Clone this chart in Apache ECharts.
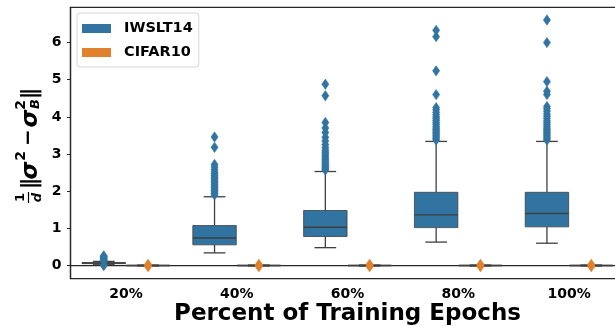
<!DOCTYPE html>
<html>
<head>
<meta charset="utf-8">
<script src="https://cdn.jsdelivr.net/npm/echarts@6/dist/echarts.min.js"></script>
<style>
  html, body { margin: 0; padding: 0; background: #fff; }
  #chart { width: 615px; height: 326px; }
</style>
</head>
<body>
<div id="chart"></div>
<script>
// Training-progress checkpoints on the x axis
const categories = ['20%', '40%', '60%', '80%', '100%'];
const seriesNames = ['IWSLT14', 'CIFAR10'];
const yTicks = [0, 1, 2, 3, 4, 5, 6];

// Five-number summaries per checkpoint: [lower whisker, Q1, median, Q3, upper whisker]
const iwsltBox = [
  [0.02, 0.05, 0.065, 0.08, 0.11],
  [0.34, 0.556, 0.74, 1.075, 1.85],
  [0.48, 0.78, 1.03, 1.48, 2.53],
  [0.63, 1.02, 1.36, 1.97, 3.34],
  [0.60, 1.04, 1.40, 1.97, 3.34]
];
const cifarBox = [
  [-0.012, -0.006, 0.0, 0.006, 0.012],
  [-0.012, -0.006, 0.0, 0.006, 0.012],
  [-0.012, -0.006, 0.0, 0.006, 0.012],
  [-0.012, -0.006, 0.0, 0.006, 0.012],
  [-0.012, -0.006, 0.0, 0.006, 0.012]
];

// Outliers beyond the whiskers, per checkpoint
const iwsltOutliers = [
  [0.0, 0.01, 0.12, 0.14, 0.16, 0.18, 0.2, 0.22, 0.24, 0.26],
  [1.9, 1.94, 1.98, 2.02, 2.06, 2.1, 2.14, 2.18, 2.22, 2.26, 2.3, 2.34, 2.38, 2.42, 2.47, 2.52, 2.58, 2.65, 2.72, 3.18, 3.46],
  [2.57, 2.6, 2.63, 2.66, 2.7, 2.74, 2.78, 2.82, 2.86, 2.9, 2.95, 3.0, 3.05, 3.1, 3.17, 3.25, 3.35, 3.45, 3.58, 3.7, 3.85, 4.57, 4.88],
  [3.38, 3.42, 3.46, 3.5, 3.54, 3.58, 3.62, 3.66, 3.7, 3.75, 3.8, 3.85, 3.9, 3.95, 4.0, 4.06, 4.12, 4.19, 4.25, 4.6, 5.24, 6.16, 6.33],
  [3.38, 3.42, 3.46, 3.5, 3.54, 3.58, 3.62, 3.66, 3.7, 3.75, 3.8, 3.85, 3.9, 3.96, 4.02, 4.08, 4.15, 4.22, 4.28, 4.6, 4.69, 4.95, 6.0, 6.61]
];
const cifarOutliers = [
  [-0.03, -0.015, 0.015, 0.03],
  [-0.03, -0.015, 0.015, 0.03],
  [-0.03, -0.015, 0.015, 0.03],
  [-0.03, -0.015, 0.015, 0.03],
  [-0.03, -0.015, 0.015, 0.03]
];

const colors = ['#3274a1', '#e1812c'];
const lineGray = '#3f3f3f';
const axisColor = '#262626';
const FONT = 'DejaVu Sans';

// Each hue takes 0.4 of a category band, offset left / right of the tick
const hueOffset = [-0.2, 0.2];
const boxFrac = 0.392;

function boxData(stats) {
  return stats.map((s, i) => [i].concat(s));
}
function outlierData(lists) {
  const out = [];
  lists.forEach((vals, i) => vals.forEach(v => out.push([i, v])));
  return out;
}

function renderBox(hue) {
  return function (params, api) {
    const cat = api.value(0);
    const band = api.size([1, 0])[0];
    const cx = api.coord([cat, 0])[0] + hueOffset[hue] * band;
    const half = band * boxFrac / 2;
    const cap = half / 2;
    const y = (k) => api.coord([cat, api.value(k)])[1];
    const lo = y(1), q1 = y(2), med = y(3), q3 = y(4), hi = y(5);
    const ls = { stroke: lineGray, lineWidth: 1.3 };
    return {
      type: 'group',
      children: [
        { type: 'line', shape: { x1: cx, y1: q3, x2: cx, y2: hi }, style: ls },
        { type: 'line', shape: { x1: cx, y1: q1, x2: cx, y2: lo }, style: ls },
        { type: 'line', shape: { x1: cx - cap, y1: hi, x2: cx + cap, y2: hi }, style: ls },
        { type: 'line', shape: { x1: cx - cap, y1: lo, x2: cx + cap, y2: lo }, style: ls },
        { type: 'rect', shape: { x: cx - half, y: q3, width: 2 * half, height: q1 - q3 },
          style: { fill: colors[hue], stroke: lineGray, lineWidth: 0.8 } },
        { type: 'line', shape: { x1: cx - half, y1: med, x2: cx + half, y2: med }, style: { stroke: lineGray, lineWidth: 1.3 } }
      ]
    };
  };
}

function renderOutlier(hue) {
  return function (params, api) {
    const cat = api.value(0);
    const band = api.size([1, 0])[0];
    const p = api.coord([cat, api.value(1)]);
    const cx = p[0] + hueOffset[hue] * band;
    const cy = p[1];
    const w = 3.6, h = 5.2;
    return {
      type: 'polygon',
      shape: { points: [[cx, cy - h], [cx + w, cy], [cx, cy + h], [cx - w, cy]] },
      style: { fill: colors[hue], stroke: colors[hue], lineWidth: 0.5 }
    };
  };
}

const chart = echarts.init(document.getElementById('chart'), null, { renderer: 'canvas' });

const textBold = (size, italic) => ({
  fontFamily: FONT, fontWeight: 'bold', fontStyle: italic ? 'italic' : 'normal',
  fontSize: size, fill: '#000', align: 'center', verticalAlign: 'middle'
});

// y-axis title: (1/d) ||σ² − σ_B²||, laid out along a baseline then turned upright
const yTitle = {
  type: 'group', x: 40, y: 207, rotation: Math.PI / 2,
  children: [
    { type: 'text', x: 9.5, y: -19, style: Object.assign({ text: '1' }, textBold(13)) },
    { type: 'line', shape: { x1: 4, y1: -11.5, x2: 15, y2: -11.5 }, style: { stroke: '#000', lineWidth: 1.2 } },
    { type: 'text', x: 9.5, y: -2.5, style: Object.assign({ text: 'd' }, textBold(13, true)) },
    { type: 'text', x: 21.5, y: -9, style: Object.assign({ text: '|' }, textBold(21)) },
    { type: 'text', x: 25.5, y: -9, style: Object.assign({ text: '|' }, textBold(21)) },
    { type: 'text', x: 36.5, y: -9, style: Object.assign({ text: 'σ' }, textBold(23, true)) },
    { type: 'text', x: 51, y: -19, style: Object.assign({ text: '2' }, textBold(14)) },
    { type: 'text', x: 69.5, y: -11, style: Object.assign({ text: '−' }, textBold(20)) },
    { type: 'text', x: 88.5, y: -9, style: Object.assign({ text: 'σ' }, textBold(23, true)) },
    { type: 'text', x: 102, y: -19, style: Object.assign({ text: '2' }, textBold(14)) },
    { type: 'text', x: 103, y: -4, style: Object.assign({ text: 'B' }, textBold(13, true)) },
    { type: 'text', x: 111.5, y: -9, style: Object.assign({ text: '|' }, textBold(21)) },
    { type: 'text', x: 115.5, y: -9, style: Object.assign({ text: '|' }, textBold(21)) }
  ]
};

const option = {
  animation: false,
  backgroundColor: '#fff',
  color: colors,
  grid: {
    left: 70.5, top: 7.3, right: -9.5, bottom: 47.5,
    outerBoundsMode: 'none', containLabel: false,
    show: true, borderColor: axisColor, borderWidth: 1.25, backgroundColor: 'transparent'
  },
  legend: {
    data: seriesNames,
    orient: 'vertical', left: 77, top: 13,
    icon: 'rect', itemWidth: 29, itemHeight: 9, itemGap: 9,
    padding: [8, 6, 7, 5],
    backgroundColor: 'rgba(255,255,255,0.85)', borderColor: '#d6d6d6', borderWidth: 1, borderRadius: 3,
    textStyle: { fontFamily: FONT, fontWeight: 'bold', fontSize: 14.5, color: '#000', lineHeight: 13, padding: [0, 0, 0, 8] }
  },
  xAxis: {
    type: 'category', data: categories, boundaryGap: true,
    axisLine: { lineStyle: { color: axisColor, width: 1.25 } },
    axisTick: { alignWithLabel: true, length: 3.5, lineStyle: { color: axisColor, width: 1 } },
    axisLabel: { fontFamily: FONT, fontWeight: 'bold', fontSize: 14, color: '#000', margin: 9 },
    splitLine: { show: false },
    name: 'Percent of Training Epochs', nameLocation: 'middle', nameGap: 24, nameMoveOverlap: false,
    nameTextStyle: { fontFamily: FONT, fontWeight: 'bold', fontSize: 23, color: '#000' }
  },
  yAxis: {
    type: 'value', min: -0.35, max: 6.95,
    axisLine: { show: true, lineStyle: { color: axisColor, width: 1.25 } },
    axisTick: { show: true, length: 3.5, customValues: yTicks, lineStyle: { color: axisColor, width: 1 } },
    axisLabel: { customValues: yTicks, fontFamily: FONT, fontWeight: 'bold', fontSize: 14, color: '#000', margin: 9 },
    splitLine: { show: false }
  },
  graphic: [yTitle],
  series: [
    { name: seriesNames[0], type: 'custom', renderItem: renderBox(0), data: boxData(iwsltBox),
      encode: { x: 0, y: [1, 2, 3, 4, 5] }, itemStyle: { color: colors[0] }, z: 2 },
    { name: seriesNames[1], type: 'custom', renderItem: renderBox(1), data: boxData(cifarBox),
      encode: { x: 0, y: [1, 2, 3, 4, 5] }, itemStyle: { color: colors[1] }, z: 2 },
    { name: seriesNames[0], type: 'custom', renderItem: renderOutlier(0), data: outlierData(iwsltOutliers),
      encode: { x: 0, y: 1 }, itemStyle: { color: colors[0] }, z: 3 },
    { name: seriesNames[1], type: 'custom', renderItem: renderOutlier(1), data: outlierData(cifarOutliers),
      encode: { x: 0, y: 1 }, itemStyle: { color: colors[1] }, z: 3 }
  ]
};

chart.setOption(option);
</script>
</body>
</html>
